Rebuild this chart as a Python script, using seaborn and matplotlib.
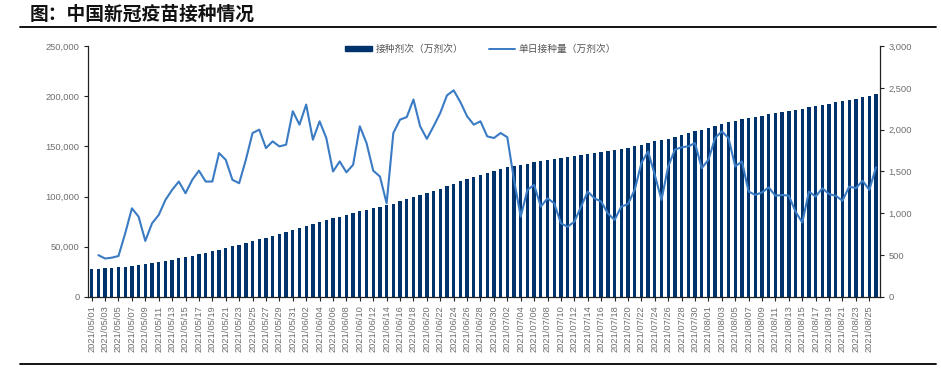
import numpy as np
import pandas as pd
import matplotlib
matplotlib.use("Agg")
import matplotlib.pyplot as plt
import seaborn as sns
from matplotlib.patches import Patch
from matplotlib.lines import Line2D
from matplotlib.ticker import FuncFormatter, MultipleLocator

# ---------------- data ----------------
dates = pd.date_range("2021-05-01", "2021-08-26").strftime("%Y/%m/%d").tolist()

cumulative = [
    27600, 28100, 28560, 29030, 29520, 30280, 31340, 32300, 32970, 33850,
    34830, 35990, 37270, 38650, 39890, 41290, 42800, 44180, 45560, 47280,
    48920, 50320, 51680, 53320, 55280, 57280, 59060, 60920, 62720, 64540,
    66760, 68820, 71120, 73000, 75100, 77000, 78500, 80120, 81610, 83190,
    85230, 87070, 88580, 90020, 91140, 93100, 95220, 97370, 99730, 101770,
    103660, 105700, 107900, 110310, 112780, 115110, 117270, 119330, 121430, 123350,
    125250, 127210, 129120, 130520, 131480, 132760, 134100, 135180, 136360, 137480,
    138360, 139200, 140100, 141180, 142440, 143620, 144760, 145760, 146680, 147760,
    148870, 150150, 151750, 153490, 154950, 156110, 157670, 159430, 161220, 163020,
    164860, 166400, 168040, 169940, 171920, 173820, 175380, 177000, 178260, 179480,
    180730, 182040, 183250, 184470, 185680, 186700, 187590, 188850, 190050, 191350,
    192580, 193790, 194940, 196260, 197560, 198950, 200230, 201780,
]

daily = [
    np.nan, 500, 460, 470, 490, 760, 1060, 960, 670, 880,
    980, 1160, 1280, 1380, 1240, 1400, 1510, 1380, 1380, 1720,
    1640, 1400, 1360, 1640, 1960, 2000, 1780, 1860, 1800, 1820,
    2220, 2060, 2300, 1880, 2100, 1900, 1500, 1620, 1490, 1580,
    2040, 1840, 1510, 1440, 1120, 1960, 2120, 2150, 2360, 2040,
    1890, 2040, 2200, 2410, 2470, 2330, 2160, 2060, 2100, 1920,
    1900, 1960, 1910, 1400, 960, 1280, 1340, 1080, 1180, 1120,
    880, 840, 900, 1080, 1260, 1180, 1140, 1000, 920, 1080,
    1110, 1280, 1600, 1740, 1460, 1160, 1560, 1760, 1790, 1800,
    1840, 1540, 1640, 1900, 1980, 1900, 1560, 1620, 1260, 1220,
    1250, 1310, 1210, 1220, 1210, 1020, 890, 1260, 1200, 1300,
    1230, 1210, 1150, 1320, 1300, 1390, 1280, 1550,
]

bar_label = "接种剂次（万剂次）"
line_label = "单日接种量（万剂次）"
title = "图：中国新冠疫苗接种情况"

df = pd.DataFrame({"date": dates, "cum": cumulative, "daily": daily,
                   "pos": np.arange(len(dates))})

# ---------------- style ----------------
bar_color = "#00336B"
line_color = "#3A7BC4"
tick_color = "#6E6E6E"

sns.set_theme(style="ticks")
plt.rcParams['font.family'] = ['Liberation Sans', 'Noto Sans CJK SC', 'DejaVu Sans']

fig = plt.figure(figsize=(9.41, 3.70), dpi=100)
ax = fig.add_axes([0.0935, 0.1973, 0.8417, 0.6784])

sns.barplot(data=df, x="date", y="cum", color=bar_color, saturation=1,
            width=0.5, linewidth=0, ax=ax)

ax2 = ax.twinx()
sns.lineplot(data=df, x="pos", y="daily", ax=ax2, color=line_color,
             linewidth=1.5)

ax.set_xlim(-0.55, len(dates) - 0.4)
ax.set_ylim(0, 250000)
ax2.set_ylim(0, 3000)

ax.yaxis.set_major_locator(MultipleLocator(50000))
ax.yaxis.set_major_formatter(FuncFormatter(lambda v, p: f"{int(v):,}"))
ax2.yaxis.set_major_locator(MultipleLocator(500))
ax2.yaxis.set_major_formatter(FuncFormatter(lambda v, p: f"{int(v):,}"))

ticks = list(range(0, len(dates), 2))
ax.set_xticks(ticks)
ax.set_xticklabels([dates[i] for i in ticks], rotation=90, fontsize=6.7,
                   color=tick_color)

for a in (ax, ax2):
    a.set_xlabel("")
    a.set_ylabel("")
    a.spines["top"].set_visible(False)
    for s in ("left", "right", "bottom"):
        a.spines[s].set_color("#222222")
        a.spines[s].set_linewidth(0.9)
    a.tick_params(axis="both", direction="out", length=3, width=0.8,
                  color="#222222", labelsize=6.7, labelcolor=tick_color, pad=3)
ax.spines["right"].set_visible(False)
ax2.spines["left"].set_visible(False)
ax2.spines["bottom"].set_visible(False)

# legend
handles = [Patch(facecolor=bar_color, edgecolor=bar_color),
           Line2D([], [], color=line_color, lw=1.4)]
fig.legend(handles, [bar_label, line_label], loc="center",
           bbox_to_anchor=(0.511, 0.868), ncol=2, frameon=False,
           prop={"family": ["Noto Sans CJK SC"], "size": 7},
           labelcolor="#555555", handlelength=2.7, handleheight=0.45,
           handletextpad=0.4, columnspacing=2.6)

# title and rules
fig.text(0.032, 0.962, title, fontsize=13.5, fontweight="bold",
         family=["Noto Sans CJK SC"], va="center", ha="left", color="#111111")
fig.add_artist(Line2D([0.021, 0.995], [0.927, 0.927], transform=fig.transFigure,
                      color="black", lw=1.3))
fig.add_artist(Line2D([0.021, 0.995], [0.016, 0.016], transform=fig.transFigure,
                      color="black", lw=1.3))

fig.savefig("out.png", dpi=100)
